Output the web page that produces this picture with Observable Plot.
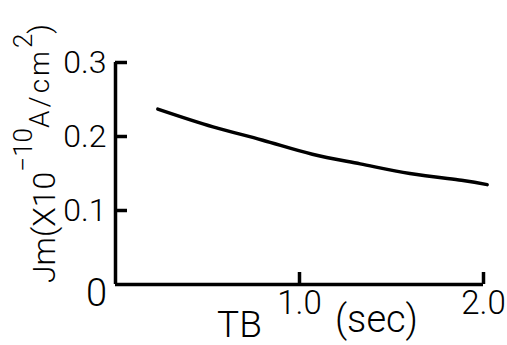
<!DOCTYPE html>
<html><head><meta charset="utf-8">
<script src="https://cdn.jsdelivr.net/npm/d3@7"></script>
<script src="https://cdn.jsdelivr.net/npm/@observablehq/plot@0.6"></script>
<style>
html,body{margin:0;padding:0;background:#fff;}
#chart svg{display:block;}
</style></head><body><div id="chart"></div>
<script>
const tb = [0.23, 0.53, 0.80, 1.07, 1.33, 1.60, 1.88, 2.02];
const jm = [0.237, 0.213, 0.195, 0.176, 0.163, 0.150, 0.141, 0.135];
const xTicks = [1.0, 2.0];
const xTickLabels = ["1.0", "2.0"];
const yTicks = [0.1, 0.2, 0.3];
const yTickLabels = ["0.1", "0.2", "0.3"];
const originLabel = ["0"];
const xTitle = ["TB", "(sec)"];
const yTitleParts = ["Jm(X10", "\u221210", "A/cm", "2", ")"];

const data = tb.map((t, i) => ({t, j: jm[i]}));
const font = "Roboto, 'Liberation Sans', sans-serif";

const plot = Plot.plot({
  width: 507, height: 345,
  marginLeft: 115, marginRight: 24, marginTop: 62, marginBottom: 61,
  x: {domain: [0, 2]},
  y: {domain: [0, 0.3]},
  style: {fontFamily: font, background: "#fff", color: "#000"},
  marks: [
    Plot.axisY({ticks: yTicks, tickSize: -12, strokeWidth: 3.5, tickFormat: () => "", label: null}),
    Plot.axisY({ticks: yTicks, tickSize: 0, tickPadding: 9, tickFormat: d => yTickLabels[yTicks.indexOf(d)], fontSize: 32, fontWeight: 300, label: null}),
    Plot.axisX({ticks: xTicks, tickSize: -12, strokeWidth: 3.5, tickFormat: () => "", label: null}),
    Plot.axisX({ticks: xTicks, tickSize: 0, tickPadding: 6, tickFormat: d => xTickLabels[xTicks.indexOf(d)], fontSize: 33, fontWeight: 300, label: null}),
    Plot.ruleY([0], {strokeWidth: 3.5, stroke: "#000"}),
    Plot.ruleX([0], {strokeWidth: 3.5, stroke: "#000"}),
    Plot.line(data, {x: "t", y: "j", curve: "natural", strokeWidth: 3.5, stroke: "#000"}),
    Plot.text(originLabel, {frameAnchor: "bottom-left", dx: -19, dy: 9, fontSize: 38, fontWeight: 300, lineAnchor: "middle", textAnchor: "middle"}),
    Plot.text([xTitle[0]], {frameAnchor: "bottom", dx: -60, dy: 41, fontSize: 37, fontWeight: 300, lineAnchor: "middle", textAnchor: "middle"}),
    Plot.text([xTitle[1]], {frameAnchor: "bottom", dx: 77, dy: 35, fontSize: 38, fontWeight: 300, lineAnchor: "middle", textAnchor: "middle"})
  ]
});

const svg = d3.select(plot);
const t = svg.append("text")
  .attr("transform", "translate(55,283) rotate(-90)")
  .attr("text-anchor", "start")
  .attr("font-family", font).attr("font-weight", 300).attr("fill", "#000");
t.append("tspan").attr("font-size", 32).text(yTitleParts[0]);
t.append("tspan").attr("font-size", 26).attr("dy", -23).text(yTitleParts[1]);
t.append("tspan").attr("font-size", 28).attr("dy", 17).attr("letter-spacing", 3).text(yTitleParts[2]);
t.append("tspan").attr("font-size", 26).attr("dy", -17).attr("letter-spacing", 0).text(yTitleParts[3]);
t.append("tspan").attr("font-size", 30).attr("dy", 18).text(yTitleParts[4]);

document.getElementById("chart").appendChild(plot);
</script></body></html>
